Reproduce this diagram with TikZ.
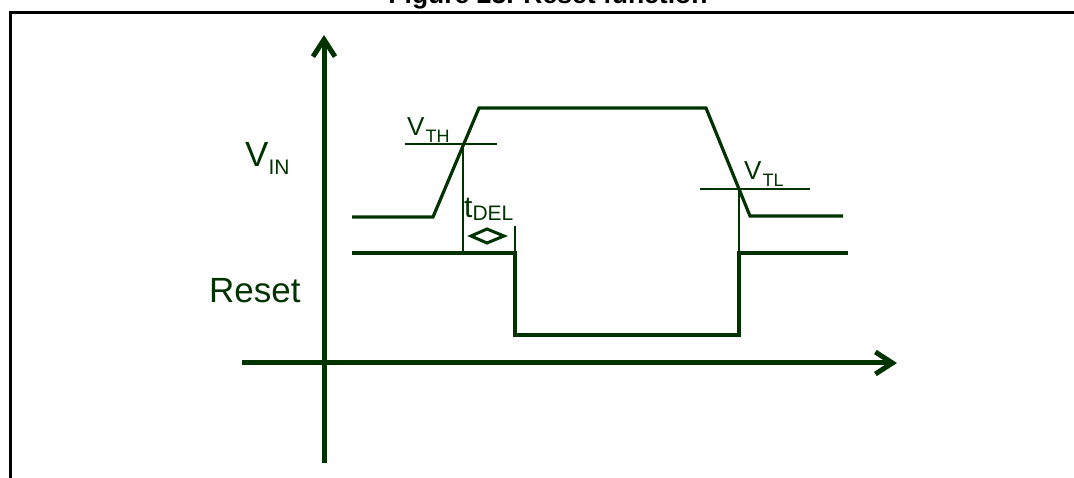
\documentclass[tikz,border=0pt]{standalone}
\usepackage{fontspec}
\setmainfont{Liberation Sans}
\usetikzlibrary{arrows.meta}
\definecolor{Trace}{HTML}{003300}

\begin{document}
\begin{tikzpicture}[x=1pt,y=-1pt,
  axis/.style={Trace,line width=5pt,-{Straight Barb[length=17pt,width=22pt,line width=5pt]}},
  wave/.style={Trace,line width=3.2pt},
  guide/.style={Trace,line width=1.3pt},
  lbl/.style={anchor=base west,inner sep=0pt,text=Trace}]
\useasboundingbox (0,0) rectangle (1074,478);
\clip (0,0) rectangle (1074,478);
% frame and title
\node[anchor=base,inner sep=0pt,font=\bfseries\fontsize{26.5}{26.5}\selectfont] (title) at (548,4) {Figure 23. Reset function};
\draw[line width=3pt] (10,500) -- (10,13) -- (1090,13);
% axes
\coordinate (ybot) at (324,463);\coordinate (ytop) at (324,35);
\coordinate (xl) at (242,363);\coordinate (xr) at (897,363);
\draw[axis] (ybot) -- (ytop);
\draw[axis] (xl) -- (xr);
% input voltage and reset output
\draw[wave] (352,217) -- (433,217) -- (479,108) -- (706,108) -- (750,216) -- (843,216);
\draw[wave] (352,253) -- (515,253) -- (515,335) -- (739,335) -- (739,253) -- (848,253);
% thresholds and delay
\draw[guide] (405,144) -- (497,144);\draw[guide] (463,144) -- (463,253);
\draw[guide] (700,189) -- (810,189);\draw[guide] (739,189) -- (739,253);
\draw[guide] (515,226) -- (515,253);
\draw[Trace,line width=3pt,line join=miter] (471,236) -- (487,229) -- (504,236) -- (487,243) -- cycle;
% labels
\node[lbl,font=\fontsize{35}{35}\selectfont] (vin) at (245,167) {V\raisebox{-8pt}{\fontsize{21}{21}\selectfont IN}};
\node[lbl,font=\fontsize{35}{35}\selectfont] (reset) at (209,303) {Reset};
\node[lbl,font=\fontsize{26}{26}\selectfont] (vth) at (407,136) {V\kern1pt\raisebox{-7pt}{\fontsize{18}{18}\selectfont TH}};
\node[lbl,font=\fontsize{30}{30}\selectfont] (tdel) at (464,218) {t\raisebox{-3pt}{\fontsize{21}{21}\selectfont DEL}};
\node[lbl,font=\fontsize{26}{26}\selectfont] (vtl) at (744,180) {V\kern1pt\raisebox{-7pt}{\fontsize{18}{18}\selectfont TL}};
\end{tikzpicture}
\end{document}
